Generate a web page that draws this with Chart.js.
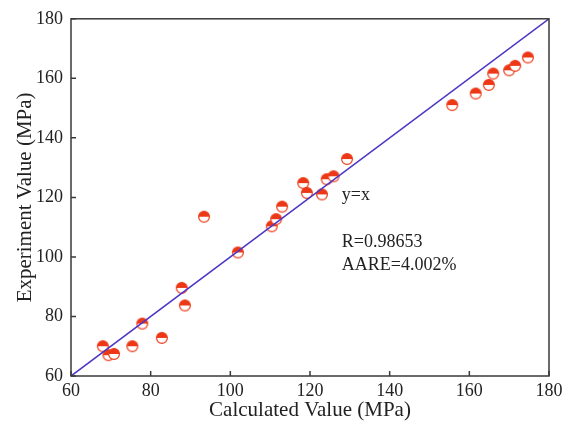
<!DOCTYPE html>
<html>
<head>
<meta charset="utf-8">
<script src="https://cdn.jsdelivr.net/npm/chart.js@4.4.1/dist/chart.umd.min.js"></script>
<style>
  html, body { margin: 0; padding: 0; background: #fff; }
  #wrap { width: 573px; height: 425px; }
</style>
</head>
<body>
<div id="wrap"><canvas id="scatterChart"></canvas></div>
<script>
// calculated vs experiment values (MPa)
const calcX = [68.0, 69.4, 70.8, 75.4, 77.9, 82.8, 87.8, 88.6, 93.4, 101.9,
    110.4, 111.5, 113.0, 118.3, 119.2, 123.0, 124.2, 125.9, 129.3,
    155.7, 161.6, 164.9, 166.0, 170.0, 171.5, 174.7];
const expY = [70.0, 67.0, 67.4, 70.0, 77.6, 72.8, 89.6, 83.7, 113.5, 101.5,
    110.3, 112.7, 116.9, 124.8, 121.5, 121.0, 126.1, 127.1, 132.9,
    151.0, 154.9, 157.8, 161.6, 162.7, 164.2, 167.0];
const lineX = [60, 180];
const lineY = [60, 180];
const tickValues = [60, 80, 100, 120, 140, 160, 180];

const red = 'rgb(236, 56, 22)';
const serif = "'Liberation Serif', 'DejaVu Serif', serif";

// half filled circle marker
const marker = document.createElement('canvas');
marker.width = 14;
marker.height = 14;
(function () {
    const c = marker.getContext('2d');
    c.fillStyle = '#fff';
    c.beginPath();
    c.arc(7, 7, 5.4, 0, Math.PI * 2);
    c.fill();
    c.fillStyle = red;
    c.beginPath();
    c.arc(7, 7, 5.4, Math.PI, Math.PI * 2);
    c.closePath();
    c.fill();
    c.strokeStyle = red;
    c.lineWidth = 1.2;
    c.beginPath();
    c.arc(7, 7, 5.4, 0, Math.PI * 2);
    c.stroke();
})();

const framePlugin = {
    id: 'frame',
    afterDraw(chart) {
        const ctx = chart.ctx;
        const a = chart.chartArea;
        const xs = chart.scales.x;
        const ys = chart.scales.y;
        ctx.save();
        ctx.strokeStyle = '#3a3a3a';
        ctx.lineWidth = 1.5;
        ctx.strokeRect(a.left, a.top, a.right - a.left, a.bottom - a.top);
        ctx.beginPath();
        tickValues.forEach(v => {
            const px = xs.getPixelForValue(v);
            ctx.moveTo(px, a.bottom);
            ctx.lineTo(px, a.bottom - 5);
            const py = ys.getPixelForValue(v);
            ctx.moveTo(a.left, py);
            ctx.lineTo(a.left + 5, py);
        });
        ctx.stroke();

        ctx.fillStyle = '#222';
        ctx.font = '18px ' + serif;
        ctx.textBaseline = 'middle';
        ctx.textAlign = 'left';
        const tx = xs.getPixelForValue(128.0);
        ctx.fillText('y=x', tx, ys.getPixelForValue(120.6));
        ctx.fillText('R=0.98653', tx, ys.getPixelForValue(104.8));
        ctx.fillText('AARE=4.002%', tx, ys.getPixelForValue(97.1));
        ctx.restore();
    }
};

const config = {
    type: 'scatter',
    data: {
        datasets: [
            {
                label: 'y=x',
                data: lineX.map((x, i) => ({ x: x, y: lineY[i] })),
                showLine: true,
                borderColor: 'rgb(76, 56, 196)',
                borderWidth: 1.6,
                pointRadius: 0,
                order: 0
            },
            {
                label: 'data',
                data: calcX.map((x, i) => ({ x: x, y: expY[i] })),
                pointStyle: marker,
                order: 1
            }
        ]
    },
    options: {
        responsive: true,
        maintainAspectRatio: false,
        animation: false,
        layout: {
            padding: { left: 0, top: 13, right: 24, bottom: 0 }
        },
        plugins: {
            legend: { display: false },
            tooltip: { enabled: false }
        },
        scales: {
            x: {
                type: 'linear',
                min: 60,
                max: 180,
                border: { display: false },
                grid: { display: false, drawTicks: false },
                ticks: {
                    stepSize: 20,
                    color: '#222',
                    padding: 4,
                    font: { family: serif, size: 18 }
                },
                title: {
                    display: true,
                    text: 'Calculated Value (MPa)',
                    color: '#222',
                    padding: { top: 0, bottom: 2 },
                    font: { family: serif, size: 21 }
                },
                afterFit(scale) { scale.height = 49; }
            },
            y: {
                type: 'linear',
                min: 60,
                max: 180,
                border: { display: false },
                grid: { display: false, drawTicks: false },
                ticks: {
                    stepSize: 20,
                    color: '#222',
                    padding: 8,
                    font: { family: serif, size: 18 }
                },
                title: {
                    display: true,
                    text: 'Experiment Value (MPa)',
                    color: '#222',
                    padding: { top: 13, bottom: 0 },
                    font: { family: serif, size: 21 }
                },
                afterFit(scale) { scale.width = 71; }
            }
        }
    },
    plugins: [framePlugin]
};

new Chart(
    document.getElementById('scatterChart'),
    config
);
</script>
</body>
</html>
